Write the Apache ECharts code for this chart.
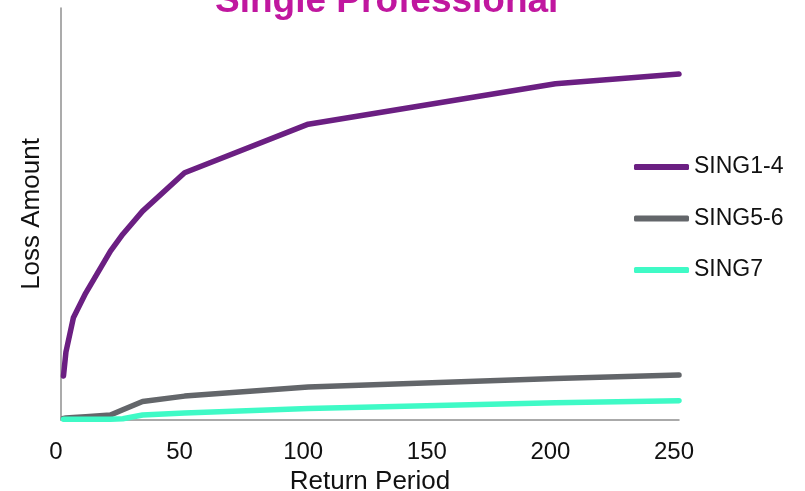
<!DOCTYPE html>
<html>
<head>
<meta charset="utf-8">
<script src="https://cdn.jsdelivr.net/npm/echarts@6/dist/echarts.min.js"></script>
<style>
  html, body { margin: 0; padding: 0; background: #ffffff; }
  #chart { width: 805px; height: 491px; }
</style>
</head>
<body>
<div id="chart"></div>
<script>
// Return periods (years) shared by every curve
const returnPeriods = [1, 2, 5, 10, 20, 25, 33, 50, 100, 200, 250];

// Loss amounts per rating group (relative units)
const sing1to4 = [10.7, 16.5, 24.8, 30.8, 41.0, 45.1, 50.7, 60.0, 71.8, 81.6, 84.0];
const sing5to6 = [0.4, 0.5, 0.6, 0.8, 1.2, 2.5, 4.5, 5.8, 8.0, 10.1, 10.9];
const sing7    = [0.2, 0.2, 0.2, 0.2, 0.2, 0.3, 1.2, 1.7, 2.8, 4.2, 4.7];

const seriesNames = ['SING1-4', 'SING5-6', 'SING7'];
const seriesColors = ['#6b1f82', '#63666a', '#3ffac6'];
const xTicks = [0, 50, 100, 150, 200, 250];

const pairs = (ys) => returnPeriods.map((x, i) => [x, ys[i]]);

const chart = echarts.init(document.getElementById('chart'), null, { renderer: 'canvas' });

const baseFont = "'Liberation Sans', Arial, sans-serif";

chart.setOption({
  animation: false,
  backgroundColor: '#ffffff',
  title: {
    text: 'Single Professional',
    left: 215,
    top: -17,
    padding: 0,
    textStyle: {
      color: '#c0179f',
      fontFamily: baseFont,
      fontWeight: 'bold',
      fontSize: 37
    }
  },
  legend: {
    orient: 'vertical',
    left: 634,
    top: 155,
    padding: 0,
    itemWidth: 55,
    itemHeight: 6,
    itemGap: 27.5,
    icon: 'roundRect',
    data: seriesNames,
    textStyle: {
      color: '#111111',
      fontFamily: baseFont,
      fontSize: 23,
      lineHeight: 24
    }
  },
  grid: {
    left: 61,
    right: 126,
    top: 8,
    bottom: 71,
    containLabel: false,
    outerBoundsMode: 'none'
  },
  xAxis: {
    type: 'value',
    min: 0,
    max: 250,
    interval: 50,
    name: 'Return Period',
    nameLocation: 'middle',
    nameGap: 45,
    nameTextStyle: {
      color: '#111111',
      fontFamily: baseFont,
      fontSize: 26
    },
    axisLine: { show: true, lineStyle: { color: '#8f8f8f', width: 1.5 } },
    axisTick: { show: false },
    splitLine: { show: false },
    axisLabel: {
      color: '#111111',
      fontFamily: baseFont,
      fontSize: 24,
      margin: 20,
      padding: [0, 10, 0, 0],
      formatter: (v) => (xTicks.indexOf(v) >= 0 ? String(v) : '')
    }
  },
  yAxis: {
    type: 'value',
    min: 0,
    max: 100,
    name: 'Loss Amount',
    nameLocation: 'middle',
    nameGap: 16,
    nameTextStyle: {
      color: '#111111',
      fontFamily: baseFont,
      fontSize: 26
    },
    axisLine: { show: true, lineStyle: { color: '#8f8f8f', width: 1.5 } },
    axisTick: { show: false },
    axisLabel: { show: false },
    splitLine: { show: false }
  },
  series: seriesNames.map((name, i) => ({
    name,
    type: 'line',
    data: pairs([sing1to4, sing5to6, sing7][i]),
    showSymbol: false,
    symbol: 'none',
    color: seriesColors[i],
    lineStyle: { color: seriesColors[i], width: 5.5, cap: 'round', join: 'round' },
    itemStyle: { color: seriesColors[i] },
    z: 2 + i
  }))
});
</script>
</body>
</html>
